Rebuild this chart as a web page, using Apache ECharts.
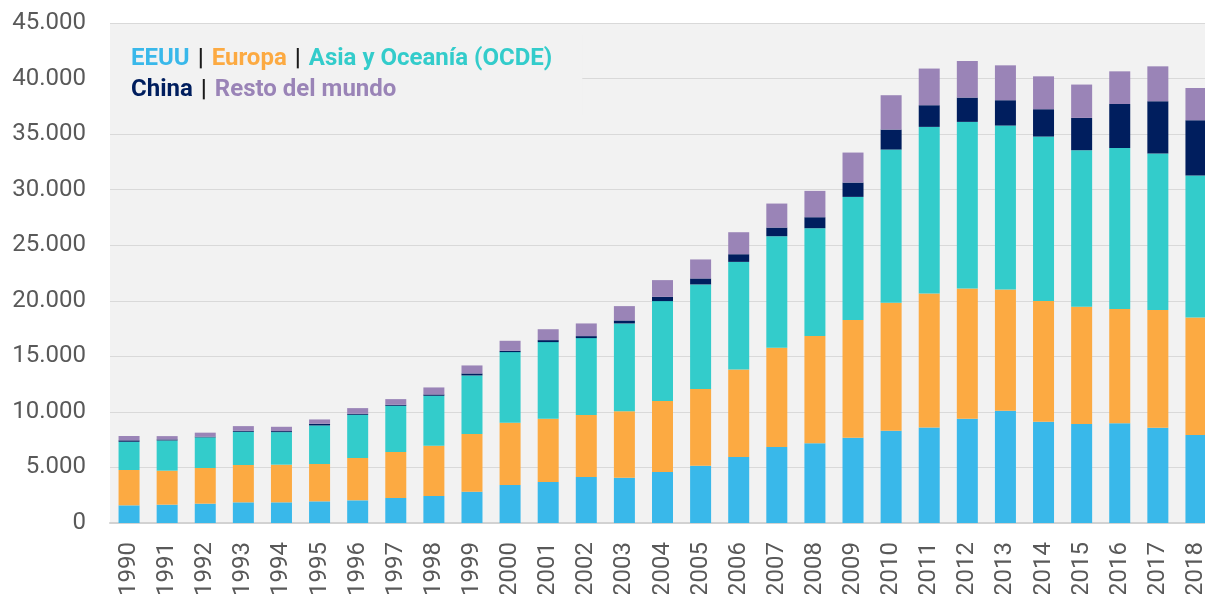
<!DOCTYPE html>
<html>
<head>
<meta charset="utf-8">
<script src="https://cdn.jsdelivr.net/npm/echarts@6/dist/echarts.min.js"></script>
<style>
  html, body { margin: 0; padding: 0; background: #fff; }
  #chart { width: 1205px; height: 594px; }
</style>
</head>
<body>
<div id="chart"></div>
<script>
// años
const years = ['1990', '1991', '1992', '1993', '1994', '1995', '1996', '1997', '1998', '1999',
  '2000', '2001', '2002', '2003', '2004', '2005', '2006', '2007', '2008', '2009',
  '2010', '2011', '2012', '2013', '2014', '2015', '2016', '2017', '2018'];

const eeuu = [1590, 1650, 1740, 1860, 1860, 1950, 2040, 2250, 2430, 2820,
  3420, 3690, 4140, 4080, 4590, 5150, 5940, 6840, 7170, 7680,
  8310, 8600, 9380, 10100, 9110, 8900, 8970, 8570, 7910];
const europa = [3180, 3060, 3210, 3360, 3390, 3360, 3810, 4140, 4520, 5180,
  5600, 5700, 5570, 5970, 6380, 6900, 7880, 8930, 9650, 10580,
  11510, 12060, 11730, 10920, 10860, 10560, 10280, 10590, 10590];
const asiaOcde = [2540, 2720, 2760, 2990, 2930, 3470, 3890, 4160, 4500, 5280,
  6360, 6890, 6930, 7910, 9000, 9420, 9680, 10040, 9710, 11090,
  13790, 14990, 14990, 14750, 14810, 14090, 14510, 14090, 12770];
const china = [130, 90, 60, 90, 90, 150, 90, 90, 120, 180,
  120, 180, 180, 270, 380, 540, 690, 780, 990, 1290,
  1800, 1950, 2190, 2280, 2460, 2910, 3950, 4710, 4980];
const resto = [390, 300, 360, 420, 390, 390, 510, 510, 630, 720,
  900, 980, 1140, 1290, 1510, 1710, 1980, 2160, 2370, 2700,
  3090, 3300, 3290, 3140, 2960, 3000, 2940, 3140, 2900];

const colors = {
  eeuu: '#39b8ea',
  europa: '#fcaa42',
  asia: '#33cccb',
  china: '#001e5e',
  resto: '#9a84b7'
};

function fmt(v) {
  return String(v).replace(/\B(?=(\d{3})+(?!\d))/g, '.');
}

function barSeries(name, data, color) {
  return {
    name: name,
    type: 'bar',
    stack: 'total',
    barWidth: 21,
    itemStyle: { color: color },
    data: data
  };
}

function word(color) {
  return { color: color, fontWeight: 'bold', fontSize: 24, lineHeight: 31, fontFamily: 'Roboto' };
}

const chart = echarts.init(document.getElementById('chart'));
chart.setOption({
  animation: false,
  textStyle: { fontFamily: 'Roboto' },
  title: {
    left: 110,
    top: 35,
    padding: [8, 30, 10, 21],
    backgroundColor: '#f2f2f2',
    text: '{a|EEUU}{s||}{b|Europa}{s||}{c|Asia y Oceanía (OCDE)}\n{d|China}{s||}{e|Resto del mundo}',
    textStyle: {
      fontSize: 24,
      lineHeight: 31,
      fontFamily: 'Roboto',
      rich: {
        a: word(colors.eeuu),
        b: word(colors.europa),
        c: word(colors.asia),
        d: word(colors.china),
        e: word(colors.resto),
        s: { color: '#1a1a1a', fontSize: 24, lineHeight: 31, fontFamily: 'Roboto', padding: [0, 8, 0, 8] }
      }
    }
  },
  grid: {
    left: 110,
    right: -10,
    top: 23,
    bottom: 71,
    outerBoundsMode: 'none',
    show: true,
    backgroundColor: '#f2f2f2',
    borderWidth: 0
  },
  xAxis: {
    type: 'category',
    data: years,
    axisTick: { show: false },
    axisLine: { lineStyle: { color: '#d2d2d2', width: 2 } },
    axisLabel: {
      rotate: 90,
      interval: 0,
      margin: 19,
      fontSize: 24,
      color: '#595959',
      fontFamily: 'Roboto'
    }
  },
  yAxis: {
    type: 'value',
    min: 0,
    max: 45000,
    interval: 5000,
    axisLine: { show: false },
    axisTick: { show: false },
    splitLine: { lineStyle: { color: '#d9d9d9', width: 1 } },
    axisLabel: {
      margin: 24,
      fontSize: 24,
      color: '#595959',
      fontFamily: 'Roboto',
      formatter: fmt
    }
  },
  series: [
    barSeries('EEUU', eeuu, colors.eeuu),
    barSeries('Europa', europa, colors.europa),
    barSeries('Asia y Oceanía (OCDE)', asiaOcde, colors.asia),
    barSeries('China', china, colors.china),
    barSeries('Resto del mundo', resto, colors.resto)
  ]
});
</script>
</body>
</html>
